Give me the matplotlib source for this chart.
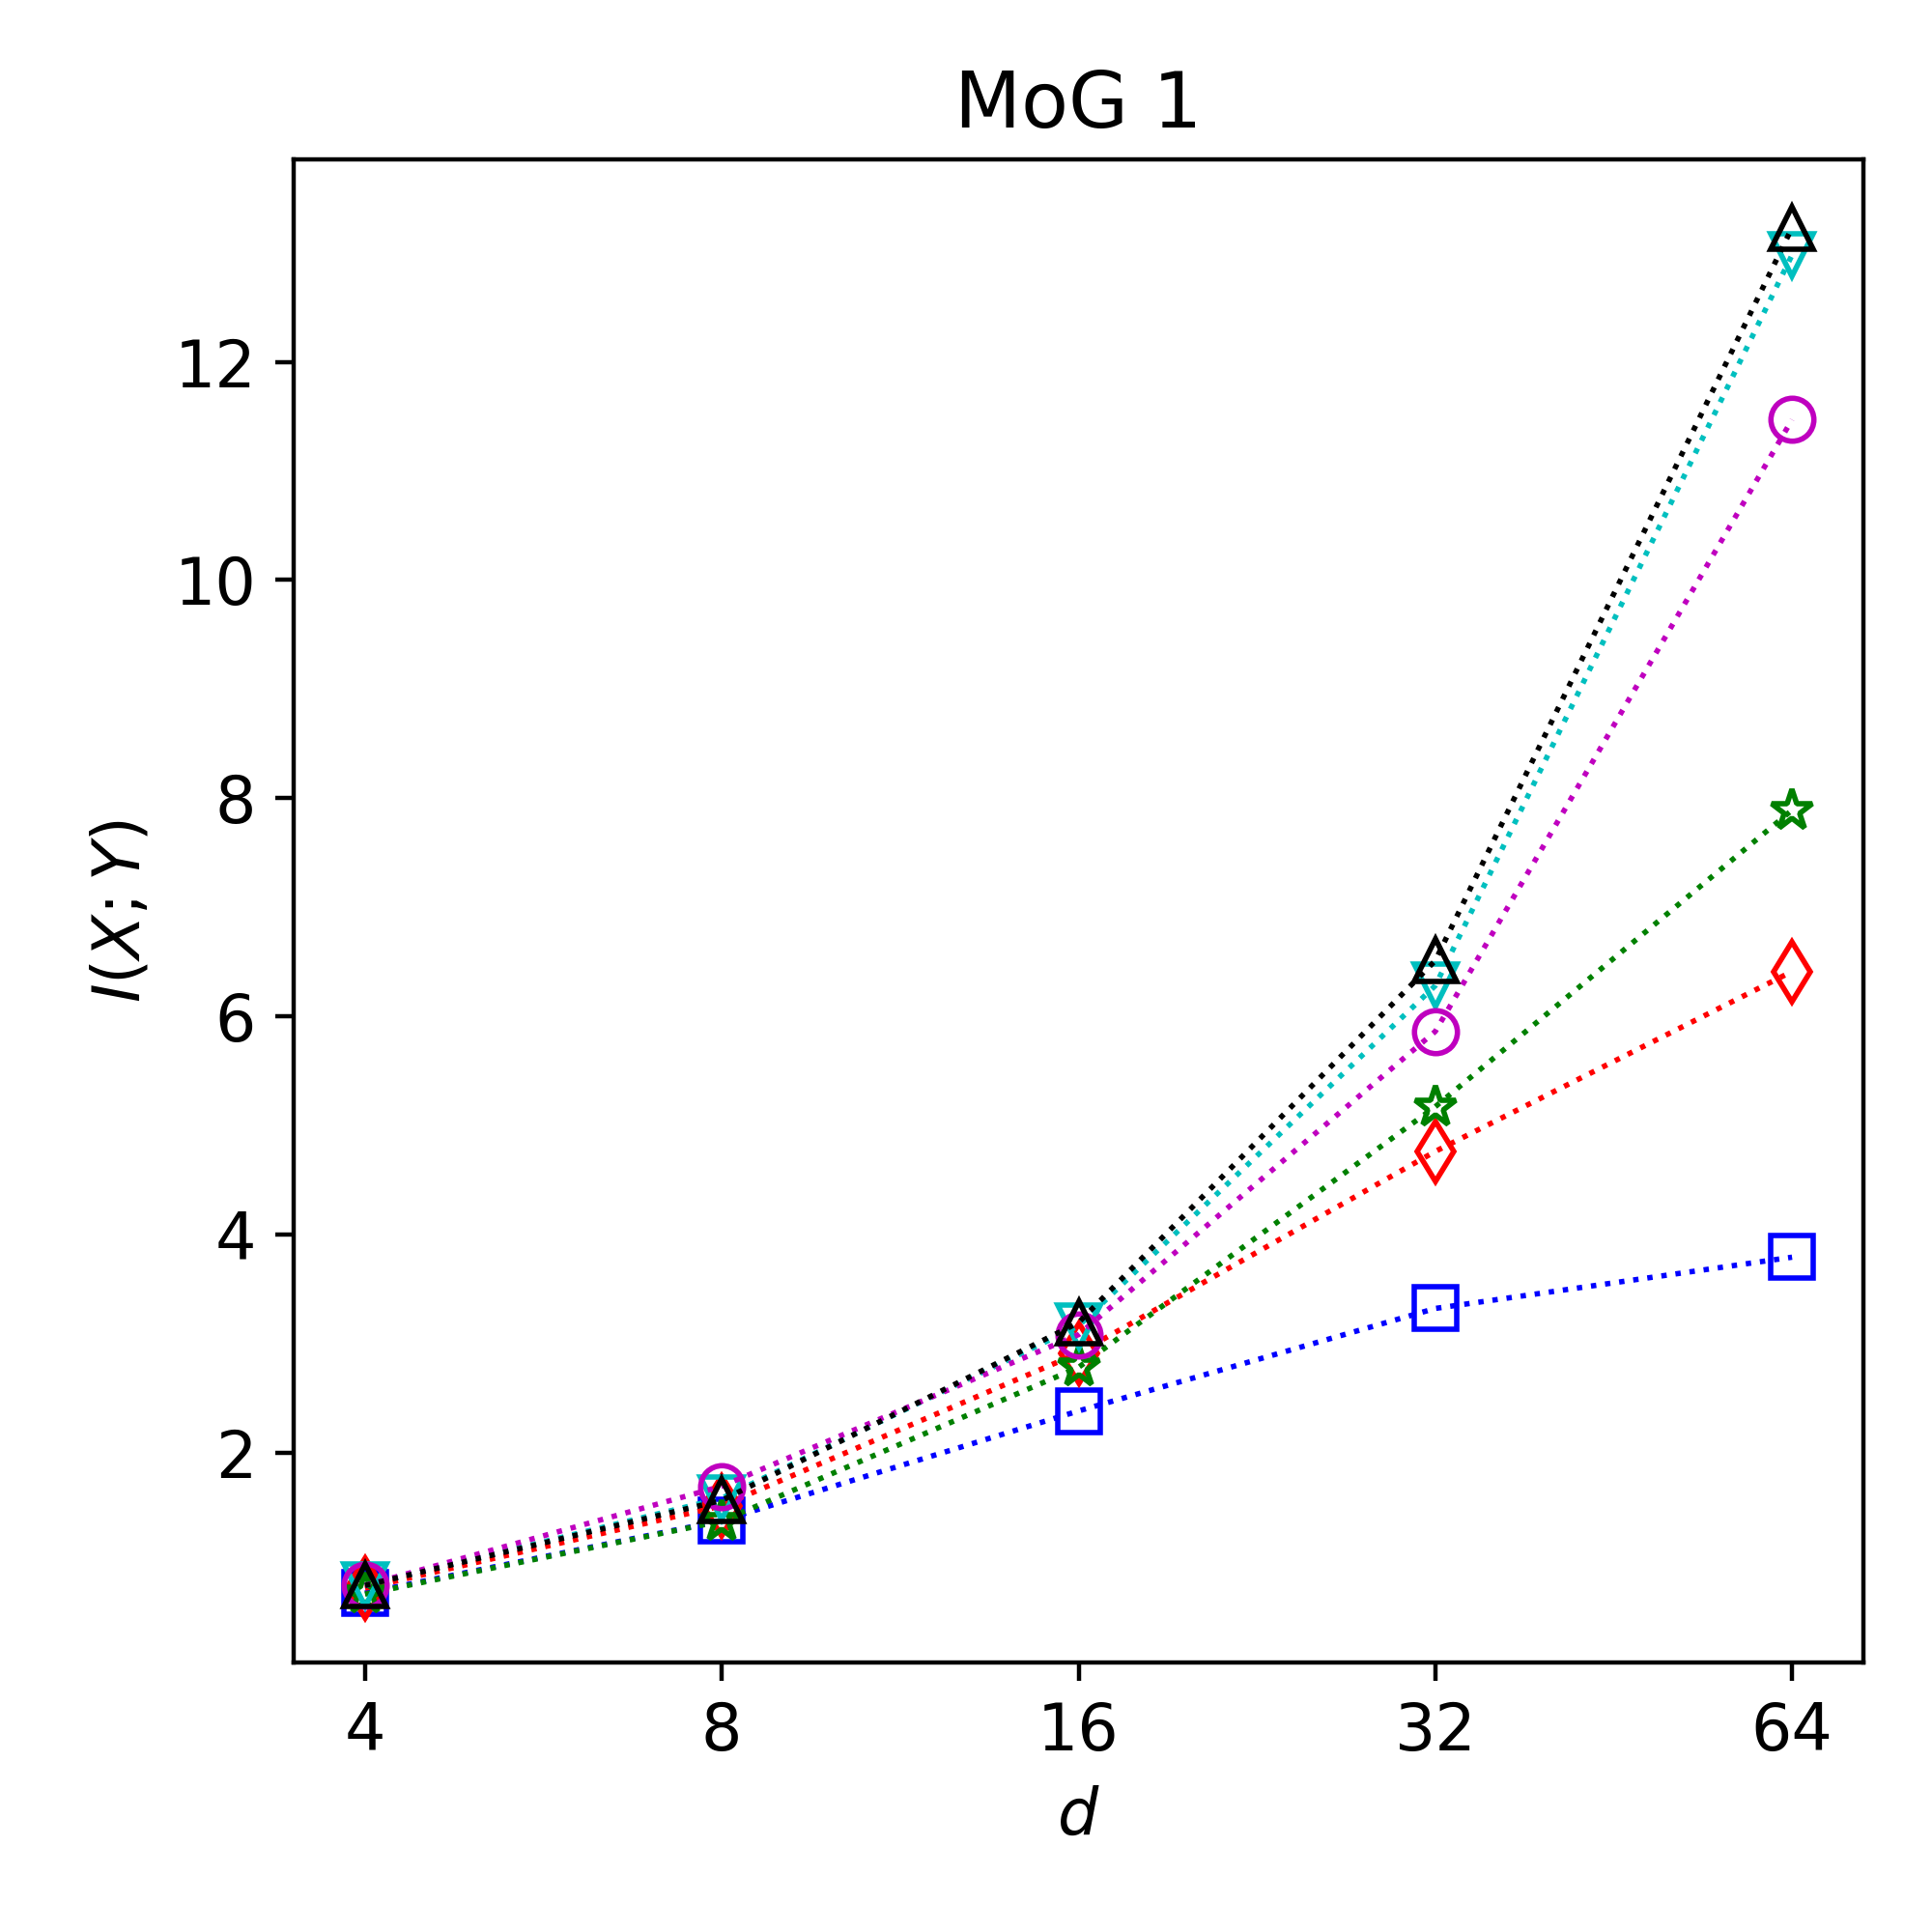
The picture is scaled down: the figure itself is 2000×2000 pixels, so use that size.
import matplotlib
matplotlib.use("Agg")
import matplotlib.pyplot as plt

plt.rcParams['font.size'] = 12

d = [4, 8, 16, 32, 64]
tick_labels = ["4", "8", "16", "32", "64"]

mi_square = [0.71, 1.375, 2.38, 3.32, 3.79]
mi_diamond = [0.755, 1.51, 2.91, 4.76, 6.41]
mi_star = [0.70, 1.37, 2.78, 5.17, 7.89]
mi_tri_down = [0.78, 1.58, 3.16, 6.28, 12.98]
mi_circle = [0.78, 1.69, 3.08, 5.86, 11.47]
mi_tri_up = [0.78, 1.56, 3.19, 6.51, 13.23]

series = [
    (mi_square, 'b', 's'),
    (mi_diamond, 'r', 'd'),
    (mi_star, 'g', '*'),
    (mi_tri_down, 'c', 'v'),
    (mi_circle, 'm', 'o'),
    (mi_tri_up, 'k', '^'),
]

fig, ax = plt.subplots(figsize=(5, 5), dpi=400)
fig.subplots_adjust(left=0.152, right=0.9645, top=0.9175, bottom=0.1395)

for vals, col, mk in series:
    ax.plot(d, vals, linestyle=':', color=col, linewidth=1, marker=mk,
            markersize=8, markerfacecolor='none', markeredgecolor=col,
            markeredgewidth=1)

ax.set_xscale('log', base=2)
ax.set_xticks(d)
ax.set_xticklabels(tick_labels)
ax.minorticks_off()
ax.set_xlabel('$d$')
ax.set_ylabel('$I(X;Y)$')
ax.set_title('MoG 1')

fig.savefig('out.png', dpi=400)
